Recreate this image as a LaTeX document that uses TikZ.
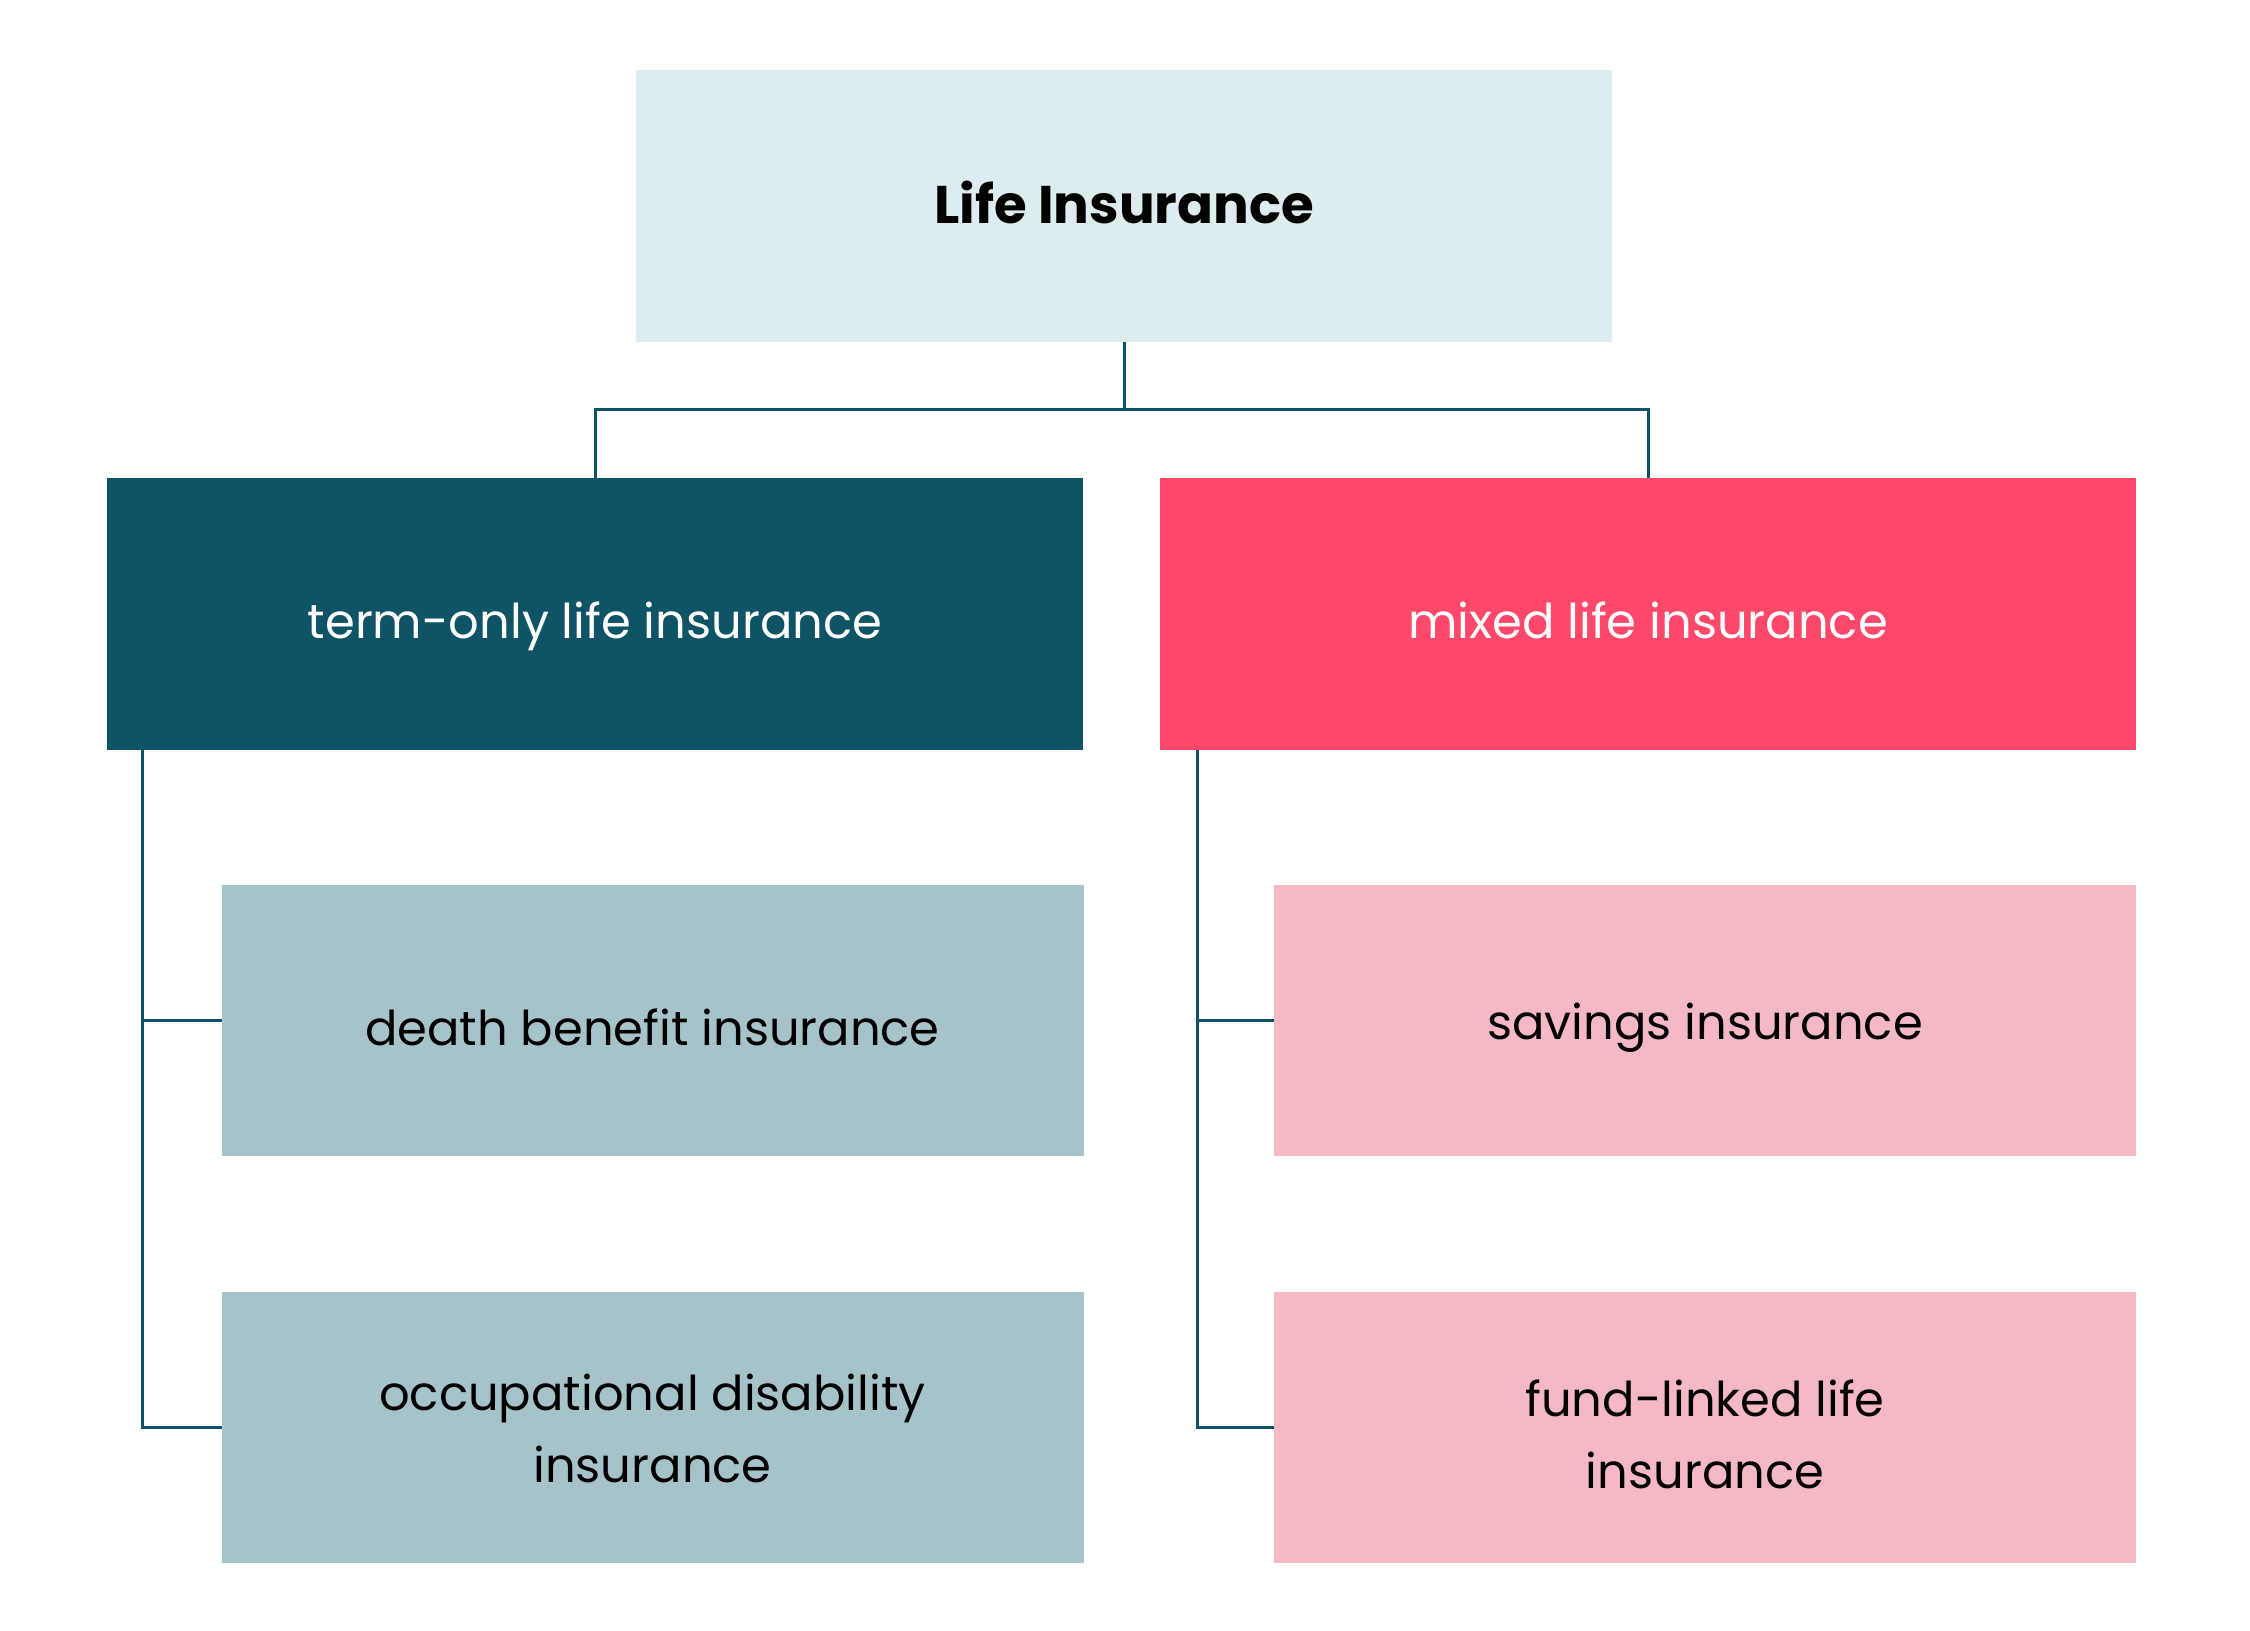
\documentclass[tikz,border=0pt]{standalone}
\usepackage{fontspec}
\setmainfont{Poppins}
\definecolor{topc}{HTML}{DCECEF}
\definecolor{termc}{HTML}{0F5466}
\definecolor{mixc}{HTML}{FF486A}
\definecolor{deathc}{HTML}{A7C3CA}
\definecolor{savc}{HTML}{F5B9C6}
\tikzset{
  box/.style={rectangle, inner sep=0pt, outer sep=0pt},
  bigbox/.style={box, minimum width=488pt, minimum height=136pt},
  smallbox/.style={box, minimum width=431pt, minimum height=135.5pt},
  lbl/.style={inner sep=0pt, align=center, text height=17pt, text depth=5pt,
    font=\fontsize{24pt}{36pt}\selectfont},
  mlbl/.style={inner sep=0pt, align=center,
    font=\fontsize{24pt}{36pt}\selectfont},
  link/.style={draw=termc, line width=1.5pt}
}
\begin{document}
\begin{tikzpicture}[x=0.5pt, y=-0.5pt]
\useasboundingbox[fill=white] (0,0) rectangle (2250,1630);
\node[bigbox, fill=topc] (top) at (1124,205.5) {};
\node[bigbox, fill=termc] (term) at (595,614) {};
\node[bigbox, fill=mixc] (mixed) at (1648,614) {};
\node[smallbox, fill=deathc] (death) at (652.5,1020.5) {};
\node[smallbox, fill=deathc] (occ) at (652.5,1427.5) {};
\node[smallbox, fill=savc] (sav) at (1705,1020.5) {};
\node[smallbox, fill=savc] (fund) at (1705,1427.5) {};
\node[lbl, font=\fontsize{26.5pt}{36pt}\selectfont\bfseries] (toplbl) at ([yshift=-3pt]top.center) {Life Insurance};
\node[lbl, text=white] (termlbl) at ([yshift=-6pt]term.center) {term-only life insurance};
\node[lbl, text=white] (mixlbl) at ([yshift=-6pt]mixed.center) {mixed life insurance};
\node[lbl] (deathlbl) at ([yshift=-6.5pt]death.center) {death benefit insurance};
\node[mlbl] (occlbl) at ([yshift=-0.5pt]occ.center) {occupational disability\\insurance};
\node[lbl] (savlbl) at ([yshift=-3.5pt]sav.center) {savings insurance};
\node[mlbl] (fundlbl) at ([yshift=-3.5pt]fund.center) {fund-linked life\\insurance};
\coordinate (bus) at (1121,409);
\coordinate (lt) at (142,750);
\coordinate (rt) at (1197,750);
\draw[link] (top.south) -- (top.south |- bus);
\draw[link] (term.north) |- (bus) -| (mixed.north);
\draw[link] (lt) |- (death.west);
\draw[link] (lt) |- (occ.west);
\draw[link] (rt) |- (sav.west);
\draw[link] (rt) |- (fund.west);
\end{tikzpicture}
\end{document}
